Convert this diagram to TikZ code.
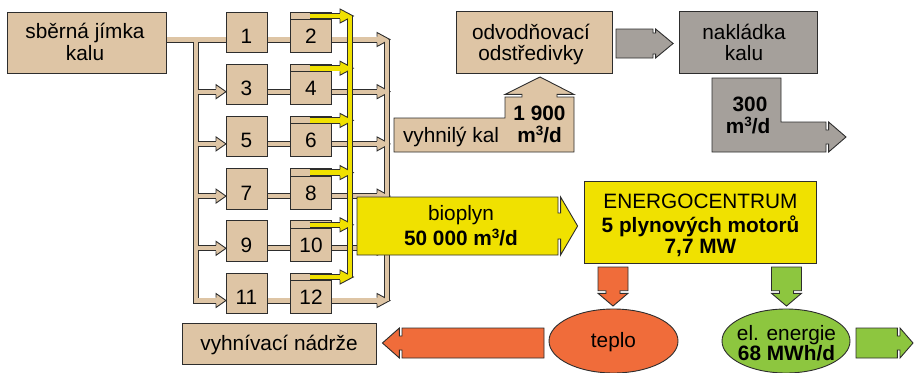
\documentclass[tikz,border=0pt]{standalone}
\usepackage{fontspec}
\setmainfont{Liberation Sans}
\usetikzlibrary{shapes.geometric}
\definecolor{tan}{RGB}{222,197,165}
\definecolor{gry}{RGB}{165,160,155}
\definecolor{yel}{RGB}{240,225,0}
\definecolor{org}{RGB}{240,108,58}
\definecolor{grn}{RGB}{141,198,63}
\definecolor{outl}{RGB}{45,45,45}
\newcommand\fr{\fontsize{20.8}{22}\selectfont}
\newcommand\fbd{\fontsize{20.8}{22}\selectfont\bfseries}
\newcommand\cub{\raisebox{0.33em}{\fontsize{13.5}{14}\selectfont 3}}
% block arrow: #1 style, #2 x, #3 y (tail centre), #4 rotation, #5 shaft length, #6 head length, #7 half width, #8 slit depth
\newcommand{\barrow}[8]{%
  \begin{scope}[shift={(#2,#3)},rotate=#4]
    \draw[#1] (0,-#7) -- (#5,-#7) -- (#5,-#7+#8) -- (#5+2.6,-#7+#8) -- (#5+2.6,-#7)
      -- (#5+2.6+#6,0) -- (#5+2.6,#7) -- (#5+2.6,#7-#8) -- (#5,#7-#8) -- (#5,#7) -- (0,#7) -- cycle;
  \end{scope}}
% pipe head: #1 style, #2 base x, #3 y, #4 apex x, #5 shaft half width
\newcommand{\phead}[5]{%
  \filldraw[#1] (#2,#3-#5) -- (#2,#3-7) -- (#4,#3) -- (#2,#3+7) -- (#2,#3+#5);}
\begin{document}
\begin{tikzpicture}[x=1pt,y=-1pt,line join=miter,
  ol/.style={draw=outl,line width=0.9pt},
  rbox/.style={ol,rectangle,inner sep=0pt,outer sep=0pt},
  tank/.style={rbox,fill=tan,minimum width=41pt,minimum height=40.5pt,font=\fr,text height=22.3pt,text depth=0pt},
  txt/.style={inner sep=0pt,anchor=base,font=\fr},
  btxt/.style={inner sep=0pt,anchor=base,font=\fbd},
  pipeo/.style={draw=outl,line width=6pt},
  pipei/.style={draw=tan,line width=4.2pt},
  yo/.style={draw=outl,line width=6.6pt},
  yi/.style={draw=yel,line width=4.8pt},
  yso/.style={draw=outl,line width=6.4pt},
  ysi/.style={draw=yel,line width=4.6pt},
  ]
\useasboundingbox (0,0) rectangle (915,372);

% ---------- pipe network (outline pass) ----------
\draw[pipeo] (166,39.5) -- (246,39.5);
\foreach \i in {0,...,5}{
  \pgfmathsetmacro\pp{39.5+52.2*\i}
  \draw[pipeo] (246,\pp) -- (377,\pp);
}
\foreach \i in {1,...,4}{
  \pgfmathsetmacro\pp{39.5+52.2*\i}
  \draw[pipeo] (196,\pp) -- (216,\pp);
}
\draw[pipeo] (196,39.5) -- (196,300.5) -- (216,300.5);
\draw[pipeo] (387,39.5) -- (387,300.5);
% heads into collector
\foreach \i in {0,...,5}{
  \pgfmathsetmacro\pp{39.5+52.2*\i}
  \phead{ol,fill=tan}{377}{\pp}{390}{3}
}
% ---------- pipe network (fill pass) ----------
\draw[pipei] (166,39.5) -- (246,39.5);
\foreach \i in {0,...,5}{
  \pgfmathsetmacro\pp{39.5+52.2*\i}
  \draw[pipei] (246,\pp) -- (377,\pp);
}
\foreach \i in {1,...,4}{
  \pgfmathsetmacro\pp{39.5+52.2*\i}
  \draw[pipei] (196,\pp) -- (216,\pp);
}
\draw[pipei] (196,39.5) -- (196,300.5) -- (216,300.5);
\draw[pipei] (387,39.5) -- (387,300.5);
% heads into odd tanks
\foreach \i in {1,...,5}{
  \pgfmathsetmacro\pp{39.5+52.2*\i}
  \phead{ol,fill=tan}{216}{\pp}{226}{3}
}

% ---------- collecting sump ----------
\node[rbox,fill=tan,minimum width=159pt,minimum height=61pt] (sb) at (86.5,42.5) {};
\node[txt] (sbt1) at (85,38.5) {sběrná jímka};
\node[txt] (sbt2) at (85,60) {kalu};

% ---------- tanks ----------
\foreach \i in {0,...,5}{
  \pgfmathsetmacro\cy{32.25+52.2*\i}
  \pgfmathtruncatemacro\no{2*\i+1}
  \pgfmathtruncatemacro\ne{2*\i+2}
  \node[tank] (b\no) at (246.5,\cy) {\no};
  \node[tank] (b\ne) at (311,\cy) {\ne};
  \draw[ol] ([yshift=-7.5pt]b\ne.north west) -- ([yshift=-7.5pt]b\ne.north east);
}

% ---------- biogas collector (yellow) ----------
\draw[yo] (350,16) -- (350,277);
\foreach \i in {0,...,5}{
  \pgfmathsetmacro\yy{16+52.2*\i}
  \draw[yso] (309.5,\yy) -- (340,\yy);
}
\foreach \i in {0,...,5}{
  \pgfmathsetmacro\yy{16+52.2*\i}
  \phead{ol,fill=yel}{340}{\yy}{353.3}{3.2}
}
\draw[yi] (350,16) -- (350,277);
\foreach \i in {0,...,5}{
  \pgfmathsetmacro\yy{16+52.2*\i}
  \draw[ysi] (310.4,\yy) -- (340,\yy);
}

% ---------- bioplyn arrow ----------
\barrow{ol,fill=yel}{357}{226}{0}{201}{17}{29}{16}
\node[txt] (bio1) at (461,220) {bioplyn};
\node[btxt] (bio2) at (461,245.5) {50 000 m\cub/d};

% ---------- energocentrum ----------
\node[rbox,fill=yel,minimum width=232pt,minimum height=82pt] (ec) at (700,222) {};
\node[txt] (ec1) at (700.5,208) {ENERGOCENTRUM};
\node[btxt] (ec2) at (700.5,232.5) {5 plynových motorů};
\node[btxt] (ec3) at (700.5,253) {7,7 MW};

% ---------- outputs of energocentrum ----------
\barrow{ol,fill=org}{613}{267}{-90}{23.7}{12.7}{15}{8}
\barrow{ol,fill=grn}{786.5}{267}{-90}{23.7}{12.7}{15}{8}
\node[ol,ellipse,fill=org,minimum width=129pt,minimum height=64pt,inner sep=0pt] (teplo) at (613.5,341) {};
\node[txt] (teplot) at (613.5,347) {teplo};
\node[ol,ellipse,fill=grn,minimum width=128pt,minimum height=64pt,inner sep=0pt] (el) at (786,341) {};
\node[txt] (elt1) at (786.5,340.5) {el. energie};
\node[btxt] (elt2) at (786.5,360.5) {68 MWh/d};
\barrow{ol,fill=org}{544}{343}{180}{142}{17}{15}{8}
\barrow{ol,fill=grn}{856}{343}{0}{41.4}{13}{15}{8}
\node[rbox,fill=tan,minimum width=194pt,minimum height=41pt] (vn) at (279,343.5) {};
\node[txt] (vnt) at (279,350) {vyhnívací nádrže};

% ---------- digested sludge ----------
\draw[ol,fill=tan] (394,152) -- (394,118) -- (505,118) -- (505,97) -- (522,97) -- (522,94.4)
  -- (505,94.4) -- (540,77) -- (574,94.4) -- (557,94.4) -- (557,97) -- (574,97) -- (574,152) -- cycle;
\node[txt] (vk) at (451,142) {vyhnilý kal};
\node[btxt] (vk1) at (539.5,120.5) {1 900};
\node[btxt] (vk2) at (539.5,142.5) {m\cub/d};

\node[rbox,fill=tan,minimum width=156pt,minimum height=62pt] (od) at (534,42) {};
\node[txt] (odt1) at (531,39.3) {odvodňovací};
\node[txt] (odt2) at (531,60) {odstředivky};
\barrow{ol,fill=gry}{616}{43.5}{0}{37}{17.5}{14.5}{4}
\node[rbox,fill=gry,minimum width=138pt,minimum height=62pt] (nk) at (748,42) {};
\node[txt] (nkt1) at (744,39.3) {nakládka};
\node[txt] (nkt2) at (744,60) {kalu};

\draw[ol,fill=gry] (712,78) -- (781,78) -- (781,122) -- (826,122) -- (826,130) -- (828.6,130)
  -- (828.6,122) -- (846,137) -- (828.6,152) -- (828.6,144) -- (826,144) -- (826,152) -- (712,152) -- cycle;
\node[btxt] (s1) at (750,111.5) {300};
\node[btxt] (s2) at (748,133.5) {m\cub/d};
\end{tikzpicture}
\end{document}
